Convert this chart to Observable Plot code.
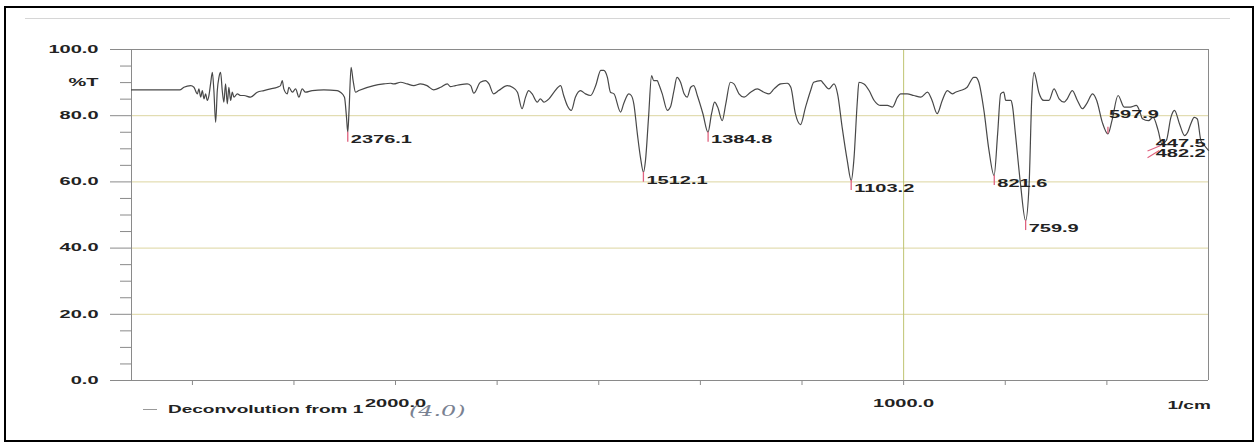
<!DOCTYPE html>
<html>
<head>
<meta charset="utf-8">
<script src="https://cdn.jsdelivr.net/npm/d3@7"></script>
<script src="https://cdn.jsdelivr.net/npm/@observablehq/plot@0.6"></script>
<style>
html, body { margin: 0; padding: 0; background: #fff; overflow: hidden; }
#wrap { position: relative; width: 1256px; height: 448px; overflow: hidden; background: #fff; }
#wrap svg { position: absolute; left: 0; top: 0; }
#border { position: absolute; left: 4px; top: 6px; width: 1250px; height: 436px; box-sizing: border-box; border: 2px solid #000; pointer-events: none; }
#scanline { position: absolute; left: 25px; top: 18px; width: 1205px; height: 0; border-top: 1px solid #d6d6d6; }
.stretch { display: inline-block; transform: scaleX(1.9); white-space: nowrap; }
#legend { position: absolute; left: 143px; top: 402px; height: 14px; display: flex; align-items: center; font: bold 10px "Liberation Sans", Arial, sans-serif; color: #222; }
#legend .swatch { width: 14px; height: 0; border-top: 1px solid #999; margin-right: 11px; }
#legend .stretch { transform-origin: left center; }
#unit { position: absolute; right: 45px; top: 400px; font: bold 10px "Liberation Sans", Arial, sans-serif; color: #222; }
#unit .stretch { transform-origin: right center; }
#hand { position: absolute; left: 409px; top: 403px; font: italic 14px "DejaVu Serif", serif; color: #7a8292; }
#hand .stretch { transform: scaleX(1.7); transform-origin: left center; }
</style>
</head>
<body>
<div id="wrap">
  <div id="scanline"></div>
  <div id="legend"><div class="swatch"></div><span class="stretch">Deconvolution from 1</span></div>
  <div id="unit"><span class="stretch">1/cm</span></div>
  <div id="hand"><span class="stretch">(4.0)</span></div>
  <div id="border"></div>
</div>
<script>
// ---- data (wavenumber in 1/cm, transmittance in %T) ----
const wavenumber = [
  4080, 3700, 3667, 3614, 3588, 3561, 3549, 3535, 3522, 3509, 3496, 3483, 3470, 3457, 3443, 3431, 3417, 3404, 3391, 3378,
  3365, 3352, 3339, 3325, 3313, 3299, 3286, 3273, 3246, 3220, 3194, 3142, 3089, 3037, 2984, 2931, 2906, 2892, 2880, 2853,
  2840, 2813, 2787, 2761, 2735, 2709, 2656, 2565, 2459, 2434, 2402, 2386, 2376, 2366, 2350, 2334, 2315, 2289, 2171, 2092,
  2039, 2013,
  1990, 1977, 1964, 1951, 1938, 1925, 1911, 1898, 1892, 1882, 1872, 1859, 1852, 1846, 1833, 1823, 1816, 1807, 1797, 1780,
  1770, 1760, 1751, 1744, 1738, 1731, 1721, 1715, 1708, 1698, 1688, 1675, 1669, 1662, 1654, 1646, 1636, 1626, 1616, 1606,
  1596, 1590, 1583, 1577, 1570, 1557, 1551, 1541, 1536, 1531, 1524, 1518, 1512, 1508, 1502, 1496, 1492, 1485, 1482, 1475,
  1465, 1459, 1452, 1446, 1439, 1432, 1426, 1419, 1413, 1406, 1395, 1385, 1378, 1372, 1366, 1357, 1350, 1341, 1334, 1324,
  1314, 1301, 1288, 1275, 1265, 1255, 1242, 1229, 1222, 1213, 1203, 1193, 1183, 1177, 1163, 1157, 1147, 1137, 1130, 1121,
  1111, 1103, 1098, 1091, 1088, 1078, 1068, 1058, 1045, 1032, 1022, 1012, 1006, 993, 980, 966, 953, 944, 934, 924,
  914, 904, 898, 888, 875, 862, 858, 852, 842, 832, 822, 815, 809, 803, 799, 789, 786, 780, 770, 760,
  753, 748, 743, 740, 734, 724, 714, 704, 694, 684, 678, 668, 658, 648, 640, 628, 620, 609, 598, 590,
  578, 566, 554, 542, 536, 530, 518, 509, 499, 492, 483, 474, 467, 457, 447, 441, 435, 428, 422, 415,
  408, 400
];
const transmittance = [
  87.8, 87.8, 88.6, 89.1, 88.6, 86.6, 88.1, 85.6, 87.6, 85.1, 86.6, 84.6, 86.1, 89.6, 93.1, 87.6, 78.0, 87.6, 91.6, 93.1,
  87.6, 84.1, 89.6, 83.6, 88.6, 84.6, 87.1, 85.6, 86.6, 86.1, 86.1, 85.6, 87.1, 87.6, 88.1, 88.6, 89.1, 90.6, 88.1, 86.6,
  88.6, 87.1, 88.1, 85.6, 88.1, 87.1, 87.6, 87.8, 87.6, 87.1, 85.6, 79.5, 75.0, 81.6, 94.6, 90.6, 87.1, 87.6, 89.1, 89.6,
  89.8, 89.6,
  90.1, 89.6, 89.1, 89.6, 89.1, 87.8, 88.6, 89.6, 88.8, 89.1, 89.4, 89.6, 89.1, 86.8, 90.1, 90.6, 89.6, 86.6, 87.6, 89.1,
  88.6, 87.1, 82.1, 85.6, 87.6, 86.6, 84.1, 85.1, 84.1, 85.1, 87.1, 89.1, 86.1, 83.1, 81.6, 85.6, 87.6, 86.6, 86.1, 89.1,
  93.7, 93.7, 91.6, 87.1, 86.6, 81.1, 83.6, 86.6, 86.1, 83.6, 74.5, 67.5, 62.9, 66.5, 79.5, 92.1, 90.6, 90.6, 89.6, 86.6,
  81.6, 82.6, 87.6, 91.6, 90.1, 86.6, 85.6, 88.6, 89.1, 86.1, 80.6, 75.0, 80.6, 84.1, 82.6, 78.5, 83.6, 90.1, 89.6, 86.6,
  85.6, 87.1, 88.1, 87.1, 86.6, 88.1, 89.6, 89.8, 88.6, 80.6, 77.3, 82.6, 87.6, 90.1, 90.6, 89.6, 88.1, 89.6, 86.6, 76.5,
  66.5, 60.4, 66.5, 84.6, 90.1, 89.6, 87.6, 84.6, 83.1, 83.1, 82.6, 85.6, 86.6, 86.6, 86.1, 85.6, 87.1, 84.6, 80.6, 84.6,
  87.6, 86.6, 87.1, 87.6, 88.6, 91.6, 91.6, 90.1, 81.6, 69.5, 61.9, 74.5, 86.6, 87.1, 84.6, 84.6, 83.1, 74.5, 59.4, 48.3,
  59.4, 84.6, 93.1, 91.6, 87.1, 84.6, 84.6, 88.1, 85.1, 84.1, 85.1, 87.6, 84.6, 82.1, 83.6, 86.6, 84.6, 78.0, 74.5, 78.5,
  86.1, 82.6, 82.6, 83.1, 81.6, 79.1, 78.5, 79.5, 75.5, 71.5, 72.5, 79.5, 81.6, 77.5, 74.0, 75.0, 77.5, 79.5, 79.0, 72.5,
  71.0, 69.5
];

// labelled peaks (tick below, label to the right)
const peakWavenumber = [2376.1, 1512.1, 1384.8, 1103.2, 821.6, 759.9];
const peakTransmittance = [75.0, 62.9, 75.0, 60.4, 61.9, 48.3];
const peakLabel = ["2376.1", "1512.1", "1384.8", "1103.2", "821.6", "759.9"];

// peaks whose labels are placed aside
const sidePeakWavenumber = [597.9];
const sidePeakTransmittance = [74.5];
const sideLabel = ["597.9", "447.5", "482.2"];
const sideLabelWavenumber = [596, 504, 504];
const sideLabelTransmittance = [80.4, 71.6, 68.4];

// pink leader strokes near the crowded labels
const leaderFromWavenumber = [520, 520];
const leaderFromTransmittance = [69.3, 67.3];
const leaderToWavenumber = [494, 497];
const leaderToTransmittance = [71.0, 69.5];

// axes
const xDomain = [4080, 2000, 400];
const xTicks = [3600, 2800, 2000, 1800, 1600, 1400, 1200, 1000, 800, 600];
const xLabeledTicks = [2000, 1000];
const yMajorTicks = [0, 20, 40, 60, 80, 100];
const yMinorTicks = [5, 10, 15, 25, 30, 35, 45, 50, 55, 65, 70, 75, 85, 90, 95];
const yUnitAt = [90];
const yUnitLabel = "%T";
const hGrid = [20, 40, 60, 80];
const vGrid = [1000];

// ---- build tables ----
const spectrum = wavenumber.map((w, i) => ({wn: w, t: transmittance[i]}));
const peaks = peakWavenumber.map((w, i) => ({wn: w, t: peakTransmittance[i], label: peakLabel[i]}));
const sidePeaks = sidePeakWavenumber.map((w, i) => ({wn: w, t: sidePeakTransmittance[i]}));
const sideLabels = sideLabel.map((s, i) => ({label: s, wn: sideLabelWavenumber[i], t: sideLabelTransmittance[i]}));
const leaders = leaderFromWavenumber.map((w, i) => ({
  x1: w, y1: leaderFromTransmittance[i], x2: leaderToWavenumber[i], y2: leaderToTransmittance[i]
}));

const pink = "#e0627f";
const frameColor = "#8a8a8a";
const textColor = "#222";

const chart = Plot.plot({
  width: 1256,
  height: 448,
  marginLeft: 131,
  marginRight: 48,
  marginTop: 49,
  marginBottom: 68,
  style: {fontFamily: '"Liberation Sans", Arial, sans-serif', fontSize: "10px", fontWeight: "bold", background: "transparent", color: textColor},
  x: {type: "linear", domain: xDomain, range: [131, 395, 1208]},
  y: {domain: [0, 100]},
  marks: [
    Plot.ruleY(hGrid, {stroke: "#dcd5a0", strokeWidth: 1}),
    Plot.ruleX(vGrid, {stroke: "#bfc472", strokeWidth: 1}),
    Plot.ruleY([0, 100], {stroke: frameColor}),
    Plot.ruleX([xDomain[0], xDomain[2]], {stroke: frameColor}),
    Plot.axisY(yMajorTicks, {tickSize: 21, tickPadding: 12, tickFormat: d => d.toFixed(1), stroke: frameColor, fill: textColor, label: null}),
    Plot.axisY(yMinorTicks, {tickSize: 11, tickFormat: () => "", stroke: frameColor, label: null}),
    Plot.axisY(yUnitAt, {tickSize: 0, tickPadding: 33, tickFormat: () => yUnitLabel, fill: textColor, label: null}),
    Plot.axisX(xTicks, {tickSize: 5, tickPadding: 14, tickFormat: d => xLabeledTicks.includes(d) ? d.toFixed(1) : "", stroke: frameColor, fill: textColor, label: null}),
    Plot.line(spectrum, {x: "wn", y: "t", stroke: "#484848", strokeWidth: 1.2, curve: "monotone-x"}),
    Plot.ruleX(peaks, {x: "wn", y1: "t", y2: d => d.t - 3, stroke: pink, strokeWidth: 1.3}),
    Plot.text(peaks, {x: "wn", y: "t", text: "label", textAnchor: "start", lineAnchor: "middle", dx: 3, dy: 8, fill: textColor}),
    Plot.ruleX(sidePeaks, {x: "wn", y1: "t", y2: d => d.t + 2, stroke: pink, strokeWidth: 1.3}),
    Plot.link(leaders, {x1: "x1", y1: "y1", x2: "x2", y2: "y2", stroke: pink, strokeWidth: 1.1}),
    Plot.text(sideLabels, {x: "wn", y: "t", text: "label", textAnchor: "start", lineAnchor: "middle", fill: textColor})
  ]
});

const wrap = document.getElementById("wrap");
wrap.insertBefore(chart, wrap.firstChild);
chart.querySelectorAll("text").forEach(t => {
  if (!t.textContent) return;
  const L = t.getComputedTextLength();
  if (L > 0) {
    t.setAttribute("textLength", (L * 2).toFixed(1));
    t.setAttribute("lengthAdjust", "spacingAndGlyphs");
  }
});
</script>
</body>
</html>
